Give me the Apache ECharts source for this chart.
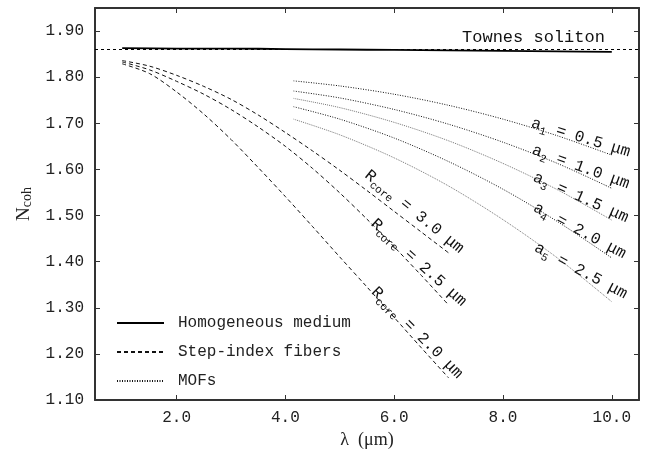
<!DOCTYPE html>
<html><head><meta charset="utf-8">
<script src="https://cdn.jsdelivr.net/npm/echarts@6/dist/echarts.min.js"></script>
<style>html,body{margin:0;padding:0;background:#fff}#c{width:650px;height:459px}</style>
</head><body><div id="c"></div><script>
// ---- data ----
const xTicks = [2, 4, 6, 8, 10];
const yTicks = [1.10, 1.20, 1.30, 1.40, 1.50, 1.60, 1.70, 1.80, 1.90];
const townesN = 1.8623;

const homLambda = [1, 2, 3, 4, 5, 6, 7, 8, 9, 10];
const homN = [1.863, 1.862, 1.862, 1.861, 1.860, 1.859, 1.858, 1.857, 1.856, 1.855];

const stepLambda = [1.0, 1.5, 2.0, 2.5, 3.0, 3.5, 4.0, 4.5, 5.0, 5.5, 6.0, 6.5, 7.0];
const stepR30 = [1.836, 1.824, 1.804, 1.780, 1.752, 1.718, 1.680, 1.640, 1.598, 1.554, 1.509, 1.464, 1.419];
const stepR25 = [1.833, 1.816, 1.791, 1.763, 1.730, 1.692, 1.650, 1.602, 1.549, 1.492, 1.432, 1.370, 1.306];
const stepR20 = [1.829, 1.808, 1.768, 1.720, 1.665, 1.604, 1.541, 1.476, 1.410, 1.345, 1.279, 1.213, 1.148];

const mofLambda = [4.15, 5.0, 6.0, 7.0, 8.0, 9.0, 10.0];
const mofA1 = [1.792, 1.781, 1.763, 1.739, 1.709, 1.673, 1.631];
const mofA2 = [1.770, 1.755, 1.730, 1.698, 1.659, 1.613, 1.559];
const mofA3 = [1.754, 1.734, 1.702, 1.662, 1.613, 1.556, 1.490];
const mofA4 = [1.736, 1.709, 1.668, 1.617, 1.557, 1.487, 1.408];
const mofA5 = [1.709, 1.675, 1.625, 1.564, 1.491, 1.408, 1.313];

const legendNames = ['Homogeneous medium', 'Step-index fibers', 'MOFs'];

// annotation texts (anchors in data coordinates)
const annotations = [
  { text: 'Townes soliton', at: [8.56, 1.887], angle: 0, size: 17 },
  { text: 'a{s|1} = 0.5 μm', at: [9.43, 1.669], angle: 17, size: 16 },
  { text: 'a{s|2} = 1.0 μm', at: [9.43, 1.605], angle: 20, size: 16 },
  { text: 'a{s|3} = 1.5 μm', at: [9.43, 1.539], angle: 24, size: 16 },
  { text: 'a{s|4} = 2.0 μm', at: [9.41, 1.467], angle: 28, size: 16 },
  { text: 'a{s|5} = 2.5 μm', at: [9.43, 1.380], angle: 28, size: 16 },
  { text: 'R{s|core} = 3.0 μm', at: [6.37, 1.508], angle: 39, size: 16 },
  { text: 'R{s|core} = 2.5 μm', at: [6.45, 1.398], angle: 42, size: 16 },
  { text: 'R{s|core} = 2.0 μm', at: [6.42, 1.246], angle: 45, size: 16 }
];
// ---------------------------------------

const pair = (xs, ys) => xs.map((x, i) => [x, ys[i]]);
const MONO = 'Liberation Mono';
const AX = '#333';

function lineSeries(name, xs, ys, style, extra) {
  return Object.assign({
    type: 'line', name: name, data: pair(xs, ys), showSymbol: false, symbol: 'none',
    smooth: 0.3, lineStyle: style, itemStyle: { color: style.color }, z: 3, silent: true
  }, extra || {});
}

const dashed = { color: '#111', width: 1, type: [4, 3] };
const dotDark = { color: '#111', width: 1, type: [1, 1.5] };
const dotGrey = { color: '#777', width: 1, type: [1, 1] };

const series = [
  lineSeries(legendNames[0], homLambda, homN, { color: '#000', width: 1.8, type: 'solid' }, {
    markLine: {
      silent: true, symbol: 'none', label: { show: false },
      lineStyle: { color: '#000', width: 1, type: [3, 3] },
      data: [{ yAxis: townesN }]
    }
  }),
  lineSeries(legendNames[1], stepLambda, stepR30, dashed),
  lineSeries(legendNames[1], stepLambda, stepR25, dashed),
  lineSeries(legendNames[1], stepLambda, stepR20, dashed),
  lineSeries(legendNames[2], mofLambda, mofA1, dotDark),
  lineSeries(legendNames[2], mofLambda, mofA2, dotDark),
  lineSeries(legendNames[2], mofLambda, mofA3, dotGrey),
  lineSeries(legendNames[2], mofLambda, mofA4, dotDark),
  lineSeries(legendNames[2], mofLambda, mofA5, dotGrey)
];

const tickLabel = { fontFamily: MONO, fontSize: 16, color: '#222' };

const option = {
  animation: false,
  backgroundColor: '#fff',
  grid: { left: 95, right: 11, top: 8, bottom: 59, containLabel: false, outerBoundsMode: 'none' },
  legend: {
    data: legendNames, orient: 'vertical', left: 116, top: 315, padding: 0,
    itemWidth: 47, itemHeight: 14, itemGap: 13, selectedMode: false,
    itemStyle: { color: 'rgba(0,0,0,0)', borderColor: 'rgba(0,0,0,0)', borderWidth: 0, opacity: 0 },
    textStyle: Object.assign({}, tickLabel, { padding: [0, 0, 0, 9] })
  },
  xAxis: [
    {
      type: 'value', min: 0.5, max: 10.5, position: 'bottom',
      axisLine: { show: true, lineStyle: { color: AX, width: 2 } },
      axisTick: { show: true, inside: true, length: 5, customValues: xTicks, lineStyle: { color: AX, width: 1 } },
      axisLabel: Object.assign({ customValues: xTicks, margin: 10, formatter: v => v.toFixed(1) }, tickLabel),
      splitLine: { show: false },
      name: 'λ  (μm)', nameLocation: 'middle', nameGap: 31,
      nameTextStyle: { fontFamily: 'Liberation Serif', fontSize: 18, color: '#222' }
    },
    {
      type: 'value', min: 0.5, max: 10.5, position: 'top',
      axisLine: { show: true, lineStyle: { color: AX, width: 2 } },
      axisTick: { show: true, inside: true, length: 5, customValues: xTicks, lineStyle: { color: AX, width: 1 } },
      axisLabel: { show: false }, splitLine: { show: false }
    }
  ],
  yAxis: [
    {
      type: 'value', min: 1.10, max: 1.95, position: 'left',
      axisLine: { show: true, lineStyle: { color: AX, width: 2 } },
      axisTick: { show: true, inside: true, length: 5, customValues: yTicks, lineStyle: { color: AX, width: 1 } },
      axisLabel: Object.assign({ customValues: yTicks, margin: 11, formatter: v => v.toFixed(2) }, tickLabel),
      splitLine: { show: false },
      name: 'N{s|coh}', nameLocation: 'middle', nameGap: 60, nameRotate: 90,
      nameTextStyle: {
        fontFamily: 'Liberation Serif', fontSize: 19, color: '#222', lineHeight: 22,
        rich: { s: { fontFamily: 'Liberation Serif', fontSize: 14, color: '#222', lineHeight: 22, verticalAlign: 'bottom' } }
      }
    },
    {
      type: 'value', min: 1.10, max: 1.95, position: 'right',
      axisLine: { show: true, lineStyle: { color: AX, width: 2 } },
      axisTick: { show: true, inside: true, length: 5, customValues: yTicks, lineStyle: { color: AX, width: 1 } },
      axisLabel: { show: false }, splitLine: { show: false }
    }
  ],
  series: series
};

const chart = echarts.init(document.getElementById('c'), null, { renderer: 'canvas' });
chart.setOption(option);

const graphics = annotations.map(a => {
  const p = chart.convertToPixel({ xAxisIndex: 0, yAxisIndex: 0 }, a.at);
  return {
    type: 'text', x: p[0], y: p[1], rotation: -a.angle * Math.PI / 180, z: 10, silent: true,
    style: {
      text: a.text, fontFamily: MONO, fontSize: a.size, fill: '#111', align: 'center', verticalAlign: 'middle',
      lineHeight: 22,
      rich: { s: { fontFamily: MONO, fontSize: 11, fill: '#111', lineHeight: 22, verticalAlign: 'bottom' } }
    }
  };
});
chart.setOption({ graphic: graphics });
</script></body></html>
